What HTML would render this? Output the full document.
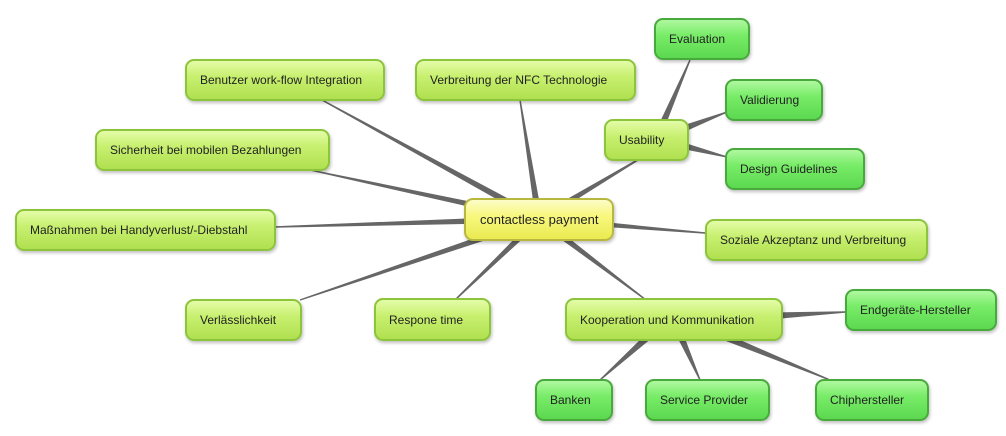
<!DOCTYPE html>
<html><head><meta charset="utf-8"><style>
body{margin:0;width:1006px;height:436px;background:#fff;position:relative;overflow:hidden;font-family:"Liberation Sans",sans-serif}
.n{position:absolute;box-sizing:border-box;border-radius:9px;font-size:12px;color:#222;padding-left:13px;display:flex;align-items:center;box-shadow:1px 2px 3px rgba(0,0,0,.25)}
.l{background:linear-gradient(#e4fca8 0%,#c8f070 40%,#b0e050 100%);border:2px solid #8cc43c}
.g{background:linear-gradient(#b0f8a0 0%,#78ec68 40%,#5cd850 100%);border:2px solid #48aa3c}
.y{background:linear-gradient(#fcfcc8 0%,#f8f880 40%,#eaea50 100%);border:2px solid #b8b840}
svg{position:absolute;left:0;top:0}
</style></head><body>
<svg width="1006" height="436" id="s"></svg>
<div class="n y" style="left:464px;top:198px;width:150px;height:43px;font-size:13px;padding-left:14px">contactless payment</div>
<div class="n g" style="left:654px;top:18px;width:96px;height:42px">Evaluation</div>
<div class="n g" style="left:725px;top:79px;width:98px;height:42px">Validierung</div>
<div class="n g" style="left:725px;top:148px;width:140px;height:42px">Design Guidelines</div>
<div class="n l" style="left:604px;top:119px;width:85px;height:42px">Usability</div>
<div class="n l" style="left:415px;top:59px;width:221px;height:42px">Verbreitung der NFC Technologie</div>
<div class="n l" style="left:185px;top:59px;width:200px;height:42px">Benutzer work-flow Integration</div>
<div class="n l" style="left:95px;top:129px;width:235px;height:42px">Sicherheit bei mobilen Bezahlungen</div>
<div class="n l" style="left:15px;top:209px;width:261px;height:42px">Maßnahmen bei Handyverlust/-Diebstahl</div>
<div class="n l" style="left:705px;top:219px;width:223px;height:42px">Soziale Akzeptanz und Verbreitung</div>
<div class="n l" style="left:185px;top:299px;width:117px;height:42px">Verlässlichkeit</div>
<div class="n l" style="left:374px;top:298px;width:117px;height:43px">Respone time</div>
<div class="n l" style="left:565px;top:298px;width:218px;height:43px">Kooperation und Kommunikation</div>
<div class="n g" style="left:845px;top:289px;width:152px;height:42px">Endgeräte-Hersteller</div>
<div class="n g" style="left:535px;top:379px;width:78px;height:42px">Banken</div>
<div class="n g" style="left:645px;top:379px;width:125px;height:42px">Service Provider</div>
<div class="n g" style="left:815px;top:379px;width:114px;height:42px">Chiphersteller</div>
<script>
var L=[
[539,219,322,100],[539,219,520,100],[539,219,310,170],[539,219,274,227],[539,219,300,300],
[539,219,455,300],[539,219,646,155],[539,219,705,233],[539,219,646,300],
[660,130,690,60],[680,130,727,112],[680,145,727,157],
[770,316,845,312],[650,335,600,380],[680,335,700,380],[720,335,830,380]];
var s=document.getElementById('s'),h='';
L.forEach(function(a){var x1=a[0],y1=a[1],x2=a[2],y2=a[3],dx=x2-x1,dy=y2-y1,d=Math.hypot(dx,dy),nx=-dy/d,ny=dx/d,w1=3.5,w2=0.7;
h+='<polygon fill="#666" points="'+(x1+nx*w1)+','+(y1+ny*w1)+' '+(x2+nx*w2)+','+(y2+ny*w2)+' '+(x2-nx*w2)+','+(y2-ny*w2)+' '+(x1-nx*w1)+','+(y1-ny*w1)+'"/>';});
s.innerHTML=h;
</script>
</body></html>
